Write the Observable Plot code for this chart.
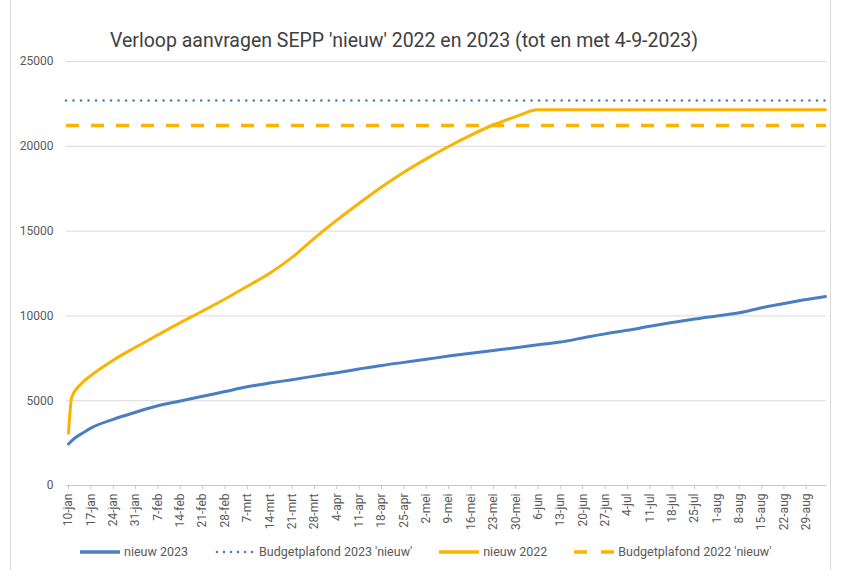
<!DOCTYPE html>
<html>
<head>
<meta charset="utf-8">
<script src="https://cdn.jsdelivr.net/npm/d3@7"></script>
<script src="https://cdn.jsdelivr.net/npm/@observablehq/plot@0.6"></script>
<style>
  html, body { margin: 0; padding: 0; background: #fff; }
  #wrap { position: relative; width: 843px; height: 570px; overflow: hidden; font-family: Roboto, "Noto Sans", sans-serif; color: #595959; }
  .vline { position: absolute; top: 0; width: 1px; height: 570px; background: #d9d9d9; z-index: 5; }
  #title { height: 48px; box-sizing: border-box; padding-top: 29px; padding-left: 110px; font-size: 19.5px; line-height: 24px; color: #404040; white-space: nowrap; overflow: visible; }
  #chart { position: relative; }
  #legend { position: absolute; left: 80px; top: 544px; display: flex; align-items: center; font-size: 12.5px; color: #595959; white-space: nowrap; }
  .item { display: flex; align-items: center; margin-right: 27px; }
  .item svg { margin-right: 4px; }
</style>
</head>
<body>
<div id="wrap">
  <div id="chart"></div>
  <div id="legend"></div>
  <div id="title" style="position:absolute; left:0; top:0;"></div>
  <div class="vline" style="left:10px"></div>
  <div class="vline" style="left:830px"></div>
</div>
<script>
const titleText = "Verloop aanvragen SEPP 'nieuw' 2022 en 2023 (tot en met 4-9-2023)";

// nieuw 2023 (blue)
const dates2023 = ["2023-01-10","2023-01-12","2023-01-15","2023-01-17","2023-01-24","2023-01-31","2023-02-07","2023-02-14","2023-02-21","2023-02-28","2023-03-07","2023-03-14","2023-03-21","2023-03-28","2023-04-04","2023-04-11","2023-04-18","2023-04-25","2023-05-02","2023-05-09","2023-05-16","2023-05-23","2023-05-30","2023-06-06","2023-06-13","2023-06-20","2023-06-27","2023-07-04","2023-07-11","2023-07-18","2023-07-25","2023-08-01","2023-08-08","2023-08-15","2023-08-22","2023-08-29","2023-09-04"];
const values2023 = [2450,2800,3150,3380,3900,4320,4700,4980,5260,5540,5820,6040,6240,6450,6650,6870,7080,7260,7440,7630,7800,7960,8120,8300,8460,8700,8940,9150,9390,9610,9820,10000,10180,10480,10730,10970,11150];

// nieuw 2022 (orange)
const dates2022 = ["2023-01-10","2023-01-11","2023-01-14","2023-01-17","2023-01-24","2023-01-31","2023-02-07","2023-02-14","2023-02-21","2023-02-28","2023-03-07","2023-03-14","2023-03-21","2023-03-28","2023-04-04","2023-04-11","2023-04-18","2023-04-25","2023-05-02","2023-05-09","2023-05-16","2023-05-23","2023-05-30","2023-06-06","2023-09-04"];
const values2022 = [3080,5200,6000,6480,7390,8150,8880,9600,10290,11000,11750,12520,13450,14590,15650,16640,17600,18470,19260,19990,20660,21270,21750,22150,22150];

// budget ceilings
const budget2023 = 22700;
const budget2022 = 21220;

// axis ticks
const yTicks = [0, 5000, 10000, 15000, 20000, 25000];
const tickDates = ["2023-01-10","2023-01-17","2023-01-24","2023-01-31","2023-02-07","2023-02-14","2023-02-21","2023-02-28","2023-03-07","2023-03-14","2023-03-21","2023-03-28","2023-04-04","2023-04-11","2023-04-18","2023-04-25","2023-05-02","2023-05-09","2023-05-16","2023-05-23","2023-05-30","2023-06-06","2023-06-13","2023-06-20","2023-06-27","2023-07-04","2023-07-11","2023-07-18","2023-07-25","2023-08-01","2023-08-08","2023-08-15","2023-08-22","2023-08-29"];
const tickLabels = ["10-jan","17-jan","24-jan","31-jan","7-feb","14-feb","21-feb","28-feb","7-mrt","14-mrt","21-mrt","28-mrt","4-apr","11-apr","18-apr","25-apr","2-mei","9-mei","16-mei","23-mei","30-mei","6-jun","13-jun","20-jun","27-jun","4-jul","11-jul","18-jul","25-jul","1-aug","8-aug","15-aug","22-aug","29-aug"];

const seriesNames = ["nieuw 2023", "Budgetplafond 2023 'nieuw'", "nieuw 2022", "Budgetplafond 2022 'nieuw'"];
const blue = "#4a7ec2";
const orange = "#f8b400";

const d23 = dates2023.map((d, i) => ({date: new Date(d), value: values2023[i]}));
const d22 = dates2022.map((d, i) => ({date: new Date(d), value: values2022[i]}));
const ticks = tickDates.map(d => new Date(d));
const labelMap = new Map(ticks.map((d, i) => [+d, tickLabels[i]]));

document.getElementById("title").textContent = titleText;

const chart = Plot.plot({
  width: 843,
  height: 537,
  marginTop: 61,
  marginLeft: 66,
  marginRight: 17,
  marginBottom: 52,
  style: {fontFamily: "Roboto, 'Noto Sans', sans-serif", background: "white"},
  x: {type: "utc", label: null, domain: [new Date(dates2023[0]), new Date(dates2023[dates2023.length - 1])], insetLeft: 2, insetRight: 1},
  y: {label: null, domain: [0, 25000]},
  marks: [
    Plot.gridY(yTicks.filter(d => d > 0), {stroke: "#d9d9d9", strokeOpacity: 1, strokeWidth: 1}),
    Plot.ruleY([0], {stroke: "#c8c8c8", strokeWidth: 1}),
    Plot.axisY({ticks: yTicks, label: null, tickSize: 0, tickPadding: 13, tickFormat: d => String(d), fontSize: 12, fill: "#595959"}),
    Plot.axisX({ticks: ticks, label: null, tickFormat: d => labelMap.get(+d), tickRotate: -90, tickSize: 4, tickPadding: 4, stroke: "#c8c8c8", fill: "#595959", fontSize: 12}),
    Plot.line(d23, {x: "date", y: "value", stroke: blue, strokeWidth: 3, curve: "monotone-x"}),
    Plot.ruleY([budget2023], {stroke: blue, strokeWidth: 2.6, strokeDasharray: "0.01 7.5", strokeLinecap: "round"}),
    Plot.line(d22, {x: "date", y: "value", stroke: orange, strokeWidth: 3, curve: "monotone-x"}),
    Plot.ruleY([budget2022], {stroke: orange, strokeWidth: 3.5, strokeDasharray: "13 12"})
  ]
});
document.getElementById("chart").appendChild(chart);

// legend
const styles = [
  {stroke: blue, width: 3.5, dash: null, cap: "butt"},
  {stroke: blue, width: 2.6, dash: "0.01 7", cap: "round"},
  {stroke: orange, width: 3.5, dash: null, cap: "butt"},
  {stroke: orange, width: 3.5, dash: "13 14", cap: "butt"}
];
const legend = d3.select("#legend");
seriesNames.forEach((name, i) => {
  const it = legend.append("div").attr("class", "item");
  const s = it.append("svg").attr("width", 40).attr("height", 10);
  const st = styles[i];
  const ln = s.append("line").attr("x1", st.cap === "round" ? 2 : 0).attr("x2", 40).attr("y1", 5).attr("y2", 5)
    .attr("stroke", st.stroke).attr("stroke-width", st.width).attr("stroke-linecap", st.cap);
  if (st.dash) ln.attr("stroke-dasharray", st.dash);
  it.append("span").text(name);
});
</script>
</body>
</html>
